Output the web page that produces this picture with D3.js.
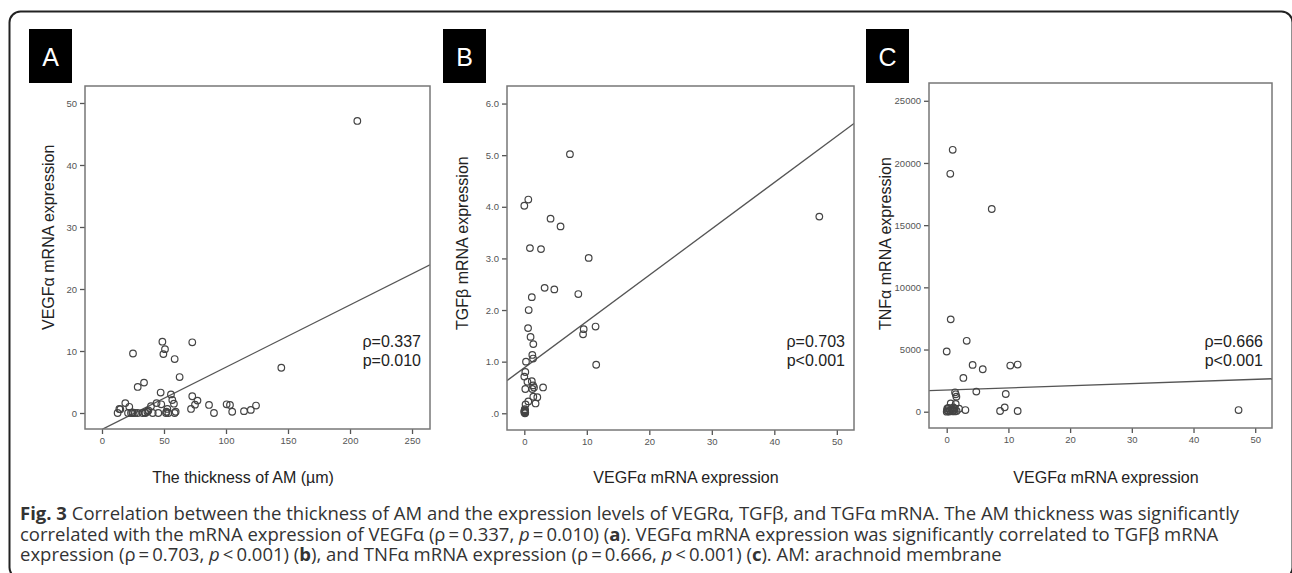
<!DOCTYPE html>
<html>
<head>
<meta charset="utf-8">
<style>
  body { margin: 0; background: #fff; }
  svg { display: block; }
</style>
</head>
<body>
<svg id="fig"></svg>
<script src="https://d3js.org/d3.v7.min.js"></script>
<script>
// panel A: thickness of AM vs VEGFa
var aThickness = [12.6, 14, 14.8, 18.8, 22, 21, 23.4, 24.5, 25, 25, 26.6, 28.8, 28.8, 33.9, 32.8, 34.5, 35, 36.6, 37.4, 39.5, 40.9, 44, 45.4, 47.3, 47.8, 48.7, 49.5, 50.8, 51.6, 52.7, 53.5, 52, 55.6, 56.7, 58, 58.6, 58.6, 59.4, 62.6, 71.8, 72.8, 72.8, 75, 77, 86.3, 90.3, 100.5, 103.2, 105, 114.5, 120, 124.2, 144.6, 205.9]
var aVegf      = [0, 0.65, 0.6, 1.6, 1, 0, 0, 0.1, 9.6, 0, 0, 4.2, 0, 4.9, 0, 0.1, 0, 0.2, 0.4, 1.1, 0, 1.6, 0, 3.3, 1.4, 11.5, 9.5, 10.3, 0, 0.65, 0, 0.2, 3.0, 2.1, 1.5, 8.7, 0, 0.2, 5.8, 0.65, 11.4, 2.7, 1.35, 2.0, 1.3, 0, 1.4, 1.3, 0.2, 0.3, 0.5, 1.2, 7.3, 47.1]

// panel B: VEGFa vs TGFb
var bVegf = [0, 0.64, 4.2, 5.8, 0.9, 2.67, 10.3, 3.25, 4.8, 8.64, 1.2, 0.7, 0.6, 9.5, 9.4, 11.4, 1.0, 1.44, 1.28, 1.4, 0.27, 11.5, 0.16, 0, 0.5, 1.2, 0.16, 1.4, 1.28, 1.55, 3.0, 0.64, 1.44, 2.08, 1.8, 0.2, 47.2, 7.3, 0.05, 0.1, 0, 0.12, 0.15, 0.08, 0.02, 0.1]
var bTgf  = [4.02, 4.14, 3.77, 3.62, 3.2, 3.18, 3.01, 2.43, 2.4, 2.31, 2.25, 2.0, 1.65, 1.63, 1.53, 1.68, 1.48, 1.34, 1.13, 1.06, 1.0, 0.94, 0.8, 0.71, 0.61, 0.62, 0.47, 0.54, 0.47, 0.5, 0.5, 0.23, 0.32, 0.31, 0.19, 0.17, 3.81, 5.02, 0.04, 0, 0.02, 0.06, 0.01, 0.08, 0.05, 0.03]

// panel C: VEGFa vs TNFa
var cVegf = [0.97, 0.58, 7.3, 0.65, 0, 3.24, 4.2, 5.84, 10.3, 11.5, 2.7, 4.8, 9.57, 1.35, 1.46, 1.57, 0.65, 1.46, 0.1, 0.3, 1.08, 1.3, 2.0, 3.03, 8.65, 9.4, 11.5, 47.3, 0, 0.2, 0.4, 0.6, 0.9, 1.1, 1.3, 1.6, 0.05, 0.8, 1.2]
var cTnf  = [21060, 19130, 16300, 7425, 4840, 5700, 3765, 3415, 3710, 3790, 2715, 1615, 1425, 1560, 1400, 1210, 670, 620, 270, 300, 350, 240, 240, 135, 55, 350, 55, 135, 0, 50, 10, 100, 30, 80, 20, 60, 120, 180, 150]

// regression line end points (data units)
var aFit = [[0.5, -2.6], [264.5, 23.9]]
var bFit = [[-2.77, 0.632], [52.8, 5.62]]
var cFit = [[-2.87, 1690], [52.8, 2650]]

var panelLetters = ['A', 'B', 'C']
var xTitles = ['The thickness of AM (\u00b5m)', 'VEGF\u03b1 mRNA expression', 'VEGF\u03b1 mRNA expression']
var yTitles = ['VEGF\u03b1 mRNA expression', 'TGF\u03b2 mRNA expression', 'TNF\u03b1 mRNA expression']
var rhoText = [['\u03c1=0.337', 'p=0.010'], ['\u03c1=0.703', 'p<0.001'], ['\u03c1=0.666', 'p<0.001']]
var xTicksA = [0, 50, 100, 150, 200, 250]
var xTicksBC = [0, 10, 20, 30, 40, 50]
var yTicksA = [0, 10, 20, 30, 40, 50]
var yTicksB = [0, 1, 2, 3, 4, 5, 6]
var yTicksC = [0, 5000, 10000, 15000, 20000, 25000]

var width = 1292, height = 573

var svg = d3.select('#fig').attr('width', width).attr('height', height)

// figure border
svg.append('rect')
  .attr('x', 9.5).attr('y', 11.5)
  .attr('width', 1283).attr('height', 567)
  .attr('rx', 11).attr('ry', 11)
  .attr('fill', 'none').attr('stroke', '#222').attr('stroke-width', 2)

var panels = [
  { x: aThickness, y: aVegf, fit: aFit, xDom: [-13.7, 264.5], yDom: [-2.58, 52.74],
    frame: [85, 430, 86, 429], box: 29, xTitleX: 243, yTitleX: 54,
    xTicks: xTicksA, yTicks: yTicksA, yFmt: function(d) { return d } },
  { x: bVegf, y: bTgf, fit: bFit, xDom: [-2.77, 52.75], yDom: [-0.324, 6.34],
    frame: [507, 854, 86, 430], box: 443, xTitleX: 686, yTitleX: 468,
    xTicks: xTicksBC, yTicks: yTicksB,
    yFmt: function(d) { return d === 0 ? '.0' : d.toFixed(1) } },
  { x: cVegf, y: cTnf, fit: cFit, xDom: [-2.87, 52.72], yDom: [-1310, 26430],
    frame: [929, 1272, 83, 428], box: 866, xTitleX: 1106, yTitleX: 891,
    xTicks: xTicksBC, yTicks: yTicksC, yFmt: function(d) { return d } }
]

panels.forEach(function(p, i) {
  var l = p.frame[0], r = p.frame[1], t = p.frame[2], b = p.frame[3]
  var x = d3.scaleLinear().domain(p.xDom).range([l, r])
  var y = d3.scaleLinear().domain(p.yDom).range([b, t])
  var g = svg.append('g')

  // letter box
  g.append('rect').attr('x', p.box).attr('y', 29).attr('width', 43).attr('height', 54).attr('fill', '#000')
  g.append('text').attr('x', p.box + 21.5).attr('y', 66)
    .attr('text-anchor', 'middle').attr('fill', '#fff')
    .style('font', '25px "Liberation Sans", Arial, sans-serif')
    .text(panelLetters[i])

  // axes
  var xAxis = d3.axisBottom(x).tickValues(p.xTicks).tickSize(5).tickSizeOuter(0)
  var yAxis = d3.axisLeft(y).tickValues(p.yTicks).tickSize(5).tickSizeOuter(0).tickFormat(p.yFmt)
  var gx = g.append('g').attr('transform', 'translate(0,' + b + ')').call(xAxis)
  var gy = g.append('g').attr('transform', 'translate(' + l + ',0)').call(yAxis)
  ;[gx, gy].forEach(function(a) {
    a.select('.domain').remove()
    a.selectAll('line').attr('stroke', '#555').attr('stroke-width', 1.3)
    a.selectAll('text').attr('fill', '#555')
      .style('font', '9.5px "Liberation Sans Narrow", "Liberation Sans", Arial, sans-serif')
  })

  // clip + frame
  var clipId = 'clip' + i
  svg.append('clipPath').attr('id', clipId)
    .append('rect').attr('x', l).attr('y', t).attr('width', r - l).attr('height', b - t)

  g.append('line')
    .attr('clip-path', 'url(#' + clipId + ')')
    .attr('x1', x(p.fit[0][0])).attr('y1', y(p.fit[0][1]))
    .attr('x2', x(p.fit[1][0])).attr('y2', y(p.fit[1][1]))
    .attr('stroke', '#555').attr('stroke-width', 1.3)

  g.selectAll('circle.pt')
    .data(p.x.map(function(v, k) { return [v, p.y[k]] }))
    .enter().append('circle')
    .attr('class', 'pt')
    .attr('cx', function(d) { return x(d[0]) })
    .attr('cy', function(d) { return y(d[1]) })
    .attr('r', 3.3)
    .attr('fill', 'none').attr('stroke', '#444').attr('stroke-width', 1.2)

  g.append('rect').attr('x', l).attr('y', t).attr('width', r - l).attr('height', b - t)
    .attr('fill', 'none').attr('stroke', '#777').attr('stroke-width', 1.5)

  // rho/p text
  rhoText[i].forEach(function(s, k) {
    g.append('text').attr('x', r - 9).attr('y', 347 + k * 19)
      .attr('text-anchor', 'end').attr('fill', '#222')
      .style('font', '16px "Liberation Sans", Arial, sans-serif')
      .text(s)
  })

  // axis titles
  g.append('text').attr('x', p.xTitleX).attr('y', 483)
    .attr('text-anchor', 'middle').attr('fill', '#222')
    .style('font', '16px "Liberation Sans", Arial, sans-serif')
    .text(xTitles[i])
  g.append('text').attr('transform', 'translate(' + p.yTitleX + ',330) rotate(-90)')
    .attr('text-anchor', 'start').attr('fill', '#222')
    .style('font', '16px "Liberation Sans", Arial, sans-serif')
    .text(yTitles[i])
})

// caption
var capLines = [
  [['Fig. 3', 'b'], [' Correlation between the thickness of AM and the expression levels of VEGR\u03b1, TGF\u03b2, and TGF\u03b1 mRNA. The AM thickness was significantly', '']],
  [['correlated with the mRNA expression of VEGF\u03b1 (\u03c1\u2009=\u20090.337, ', ''], ['p', 'i'], ['\u2009=\u20090.010) (', ''], ['a', 'b'], ['). VEGF\u03b1 mRNA expression was significantly correlated to TGF\u03b2 mRNA', '']],
  [['expression (\u03c1\u2009=\u20090.703, ', ''], ['p', 'i'], ['\u2009<\u20090.001) (', ''], ['b', 'b'], ['), and TNF\u03b1 mRNA expression (\u03c1\u2009=\u20090.666, ', ''], ['p', 'i'], ['\u2009<\u20090.001) (', ''], ['c', 'b'], ['). AM: arachnoid membrane', '']]
]
capLines.forEach(function(line, k) {
  var t = svg.append('text').attr('x', 20).attr('y', 520 + k * 20.5).attr('fill', '#333')
    .style('font', '18.5px "Open Sans", sans-serif')
  line.forEach(function(seg) {
    var ts = t.append('tspan').text(seg[0])
    if (seg[1] === 'b') ts.style('font-weight', 'bold')
    if (seg[1] === 'i') ts.style('font-style', 'italic')
  })
})
</script>
</body>
</html>
